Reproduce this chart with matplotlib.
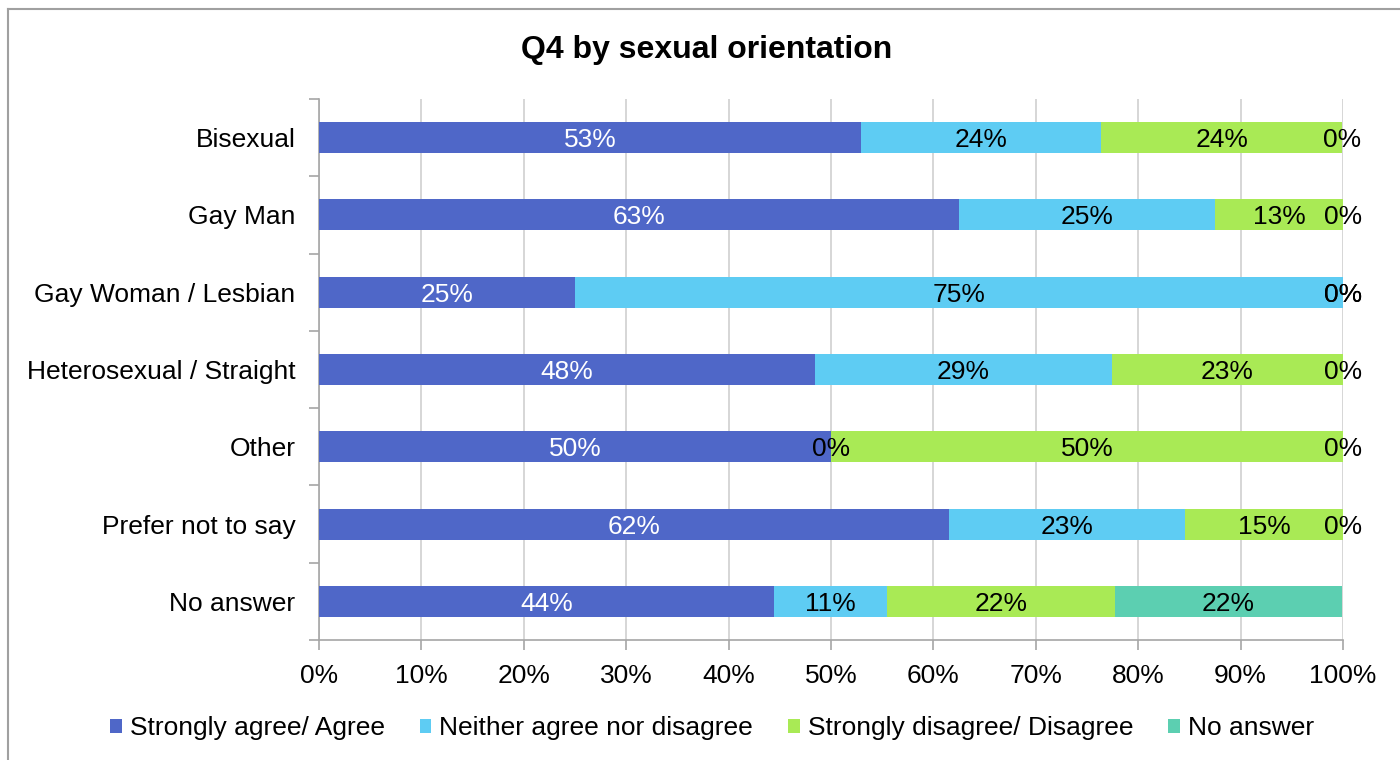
import matplotlib
matplotlib.use("Agg")
import matplotlib.pyplot as plt
from matplotlib.patches import Patch
from matplotlib.lines import Line2D
import numpy as np

plt.rcParams['font.family'] = ['Liberation Sans', 'DejaVu Sans']

categories = ["Bisexual", "Gay Man", "Gay Woman / Lesbian",
              "Heterosexual / Straight", "Other", "Prefer not to say", "No answer"]
series_names = ["Strongly agree/ Agree", "Neither agree nor disagree",
                "Strongly disagree/ Disagree", "No answer"]
agree = [52.9, 62.5, 25.0, 48.4, 50.0, 61.5, 44.4]
neither = [23.5, 25.0, 75.0, 29.0, 0.0, 23.1, 11.1]
disagree = [23.5, 12.5, 0.0, 22.6, 50.0, 15.4, 22.2]
no_answer = [0.0, 0.0, 0.0, 0.0, 0.0, 0.0, 22.2]
x_ticks = [0, 10, 20, 30, 40, 50, 60, 70, 80, 90, 100]

colors = ["#4F67C8", "#5ECCF3", "#A9EA55", "#5CCFB1"]
label_colors = ["white", "black", "black", "black"]


def pct(v):
    # round half up, as spreadsheet percentage labels do
    return f"{int(np.floor(v + 0.5))}%"


fig = plt.figure(figsize=(14, 7.6), dpi=100)
ax = fig.add_axes([319 / 1400, 1 - 640 / 760, 1024 / 1400, 541 / 760])

y = np.arange(len(categories))
left = np.zeros(len(categories))
for vals, col, lcol in zip([agree, neither, disagree, no_answer], colors, label_colors):
    vals = np.array(vals)
    ax.barh(y, vals, left=left, height=0.4, color=col, zorder=3)
    for yi, l, v in zip(y, left, vals):
        ax.text(l + v / 2, yi, pct(v), ha="center", va="center_baseline",
                fontsize=19, color=lcol, zorder=4)
    left = left + vals

ax.set_xlim(0, 100)
ax.set_ylim(len(categories) - 0.5, -0.5)
ax.set_xticks(x_ticks)
ax.set_xticklabels([f"{t}%" for t in x_ticks], fontsize=19)
ax.set_yticks(y)
ax.set_yticklabels(categories, fontsize=19)
ax.set_yticks(np.arange(-0.5, len(categories), 1.0), minor=True)
ax.tick_params(axis="y", which="major", length=0, pad=17)
ax.tick_params(axis="y", which="minor", length=7, color="#A6A6A6", width=1.2)
ax.tick_params(axis="x", length=7, color="#A6A6A6", width=1.2, pad=10)
ax.grid(axis="x", color="#D0D0D0", linewidth=1.2, zorder=0)
for s in ["top", "right"]:
    ax.spines[s].set_visible(False)
for s in ["left", "bottom"]:
    ax.spines[s].set_color("#A6A6A6")
    ax.spines[s].set_linewidth(1.2)

fig.text(707 / 1400, 1 - 50 / 760, "Q4 by sexual orientation", ha="center",
         va="center", fontsize=23, fontweight="bold")

handles = [Patch(facecolor=c, edgecolor="none") for c in colors]
fig.legend(handles, series_names, loc="center", bbox_to_anchor=(712 / 1400, 1 - 728 / 760),
           ncol=4, frameon=False, fontsize=19, handlelength=0.45, handleheight=0.45,
           handletextpad=0.3, columnspacing=1.32)

# outer chart frame
fig.add_artist(Line2D([8 / 1400, 8 / 1400], [0, 1 - 9 / 760], transform=fig.transFigure,
                      color="#A0A0A0", linewidth=1.5))
fig.add_artist(Line2D([8 / 1400, 1], [1 - 9 / 760, 1 - 9 / 760], transform=fig.transFigure,
                      color="#A0A0A0", linewidth=1.5))

fig.savefig("out.png", dpi=100, facecolor="white")
